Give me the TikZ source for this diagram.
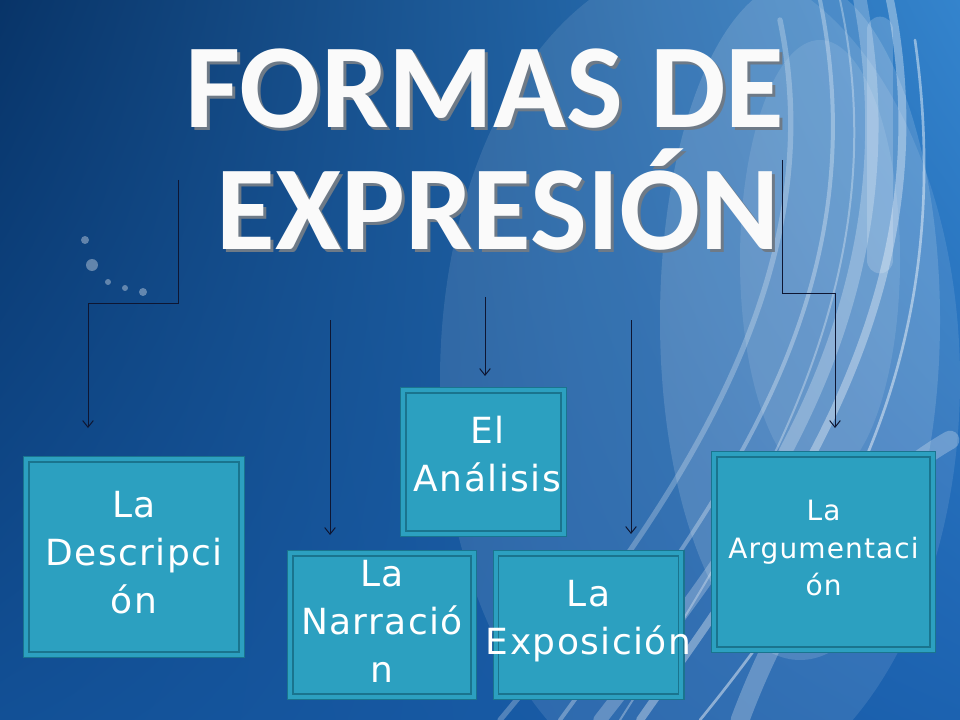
\documentclass[tikz,border=0pt]{standalone}
\usepackage{fontspec}
\usetikzlibrary{shadows,shadings,arrows.meta}
\newfontfamily\titlefont{Carlito}
\newfontfamily\boxfont[LetterSpace=4]{DejaVu Sans}
\definecolor{bgdark}{RGB}{8,52,104}
\definecolor{bgmid}{RGB}{28,98,176}
\definecolor{bglight}{RGB}{52,132,205}
\definecolor{bglow}{RGB}{18,80,150}
\definecolor{boxfill}{RGB}{44,160,192}
\definecolor{boxline}{RGB}{26,116,142}
\definecolor{arrowcol}{RGB}{14,22,50}
\definecolor{titleshade}{RGB}{110,122,135}
\begin{document}
\begin{tikzpicture}[x=0.75pt,y=-0.75pt,
    formbox/.style={draw=boxline, line width=1pt, double=boxfill, double distance=3pt,
      fill=boxfill, inner sep=0pt,
      drop shadow={shadow xshift=1.5pt, shadow yshift=-1.5pt, opacity=0.35}},
    boxlabel/.style={align=center, text=white, inner sep=0pt, yshift=3pt,
      font=\boxfont\fontsize{27}{36}\selectfont},
    smalllabel/.style={boxlabel, font=\boxfont\fontsize{21}{28}\selectfont},
    flecha/.style={-{Straight Barb[length=5pt, width=8pt]}, draw=arrowcol, line width=0.75pt},
    streak/.style={white, line cap=round}]
  \useasboundingbox (0,0) rectangle (960,720);
  % background
  \begin{scope}
    \clip (0,0) rectangle (960,720);
    \shade[upper left=bgdark, upper right=bglight, lower left=bglow, lower right=bgmid]
      (0,0) rectangle (960,720);
    \fill[white, opacity=0.10] (700,380) ellipse (260 and 420);
    \fill[white, opacity=0.14] (800,320) ellipse (140 and 340);
    \fill[white, opacity=0.10] (820,260) ellipse (80 and 220);
    \draw[streak, opacity=0.35, line width=6pt] (890,0) .. controls (950,300) and (780,520) .. (640,720);
    \draw[streak, opacity=0.25, line width=10pt] (860,0) .. controls (920,320) and (740,540) .. (600,720);
    \draw[streak, opacity=0.30, line width=3pt] (820,0) .. controls (880,300) and (720,500) .. (560,720);
    \draw[streak, opacity=0.45, line width=2pt] (915,40) .. controls (960,360) and (830,560) .. (700,720);
    \draw[streak, opacity=0.25, line width=4pt] (780,20) .. controls (830,260) and (700,480) .. (500,720);
    \draw[streak, opacity=0.30, line width=1.5pt] (840,0) .. controls (900,280) and (760,500) .. (620,720);
    \draw[streak, opacity=0.25, line width=14pt] (950,440) .. controls (880,480) and (800,560) .. (740,720);
    \draw[streak, opacity=0.18, line width=20pt] (880,30) -- (880,260);
    \fill[white, opacity=0.35] (85,240) circle (4) (92,265) circle (6) (108,282) circle (3)
      (125,288) circle (3) (143,292) circle (4);
  \end{scope}

  % title
  \node[anchor=base, text=titleshade, font=\titlefont\bfseries\fontsize{90}{92}\selectfont]
    (titleshadowa) at (488,131) {FORMAS DE};
  \node[anchor=base, text=titleshade, font=\titlefont\bfseries\fontsize{90}{92}\selectfont]
    (titleshadowb) at (501,253) {EXPRESIÓN};
  \node[anchor=base, text=white!96!gray, font=\titlefont\bfseries\fontsize{90}{92}\selectfont]
    (titlea) at (485,128) {FORMAS DE};
  \node[anchor=base, text=white!96!gray, font=\titlefont\bfseries\fontsize{90}{92}\selectfont]
    (titleb) at (498,250) {EXPRESIÓN};

  % boxes
  \node[formbox, minimum width=161.5pt, minimum height=146.5pt,
    label={[boxlabel]center:{La\\Descripci\\ón}}] (descripcion) at (134,557) {};
  \node[formbox, minimum width=120.25pt, minimum height=107.5pt,
    label={[boxlabel, yshift=3pt, xshift=3pt]center:{El\\Análisis}}] (analisis) at (483.5,462) {};
  \node[formbox, minimum width=137.5pt, minimum height=107.5pt,
    label={[boxlabel]center:{La\\Narració\\n}}] (narracion) at (382,625) {};
  \node[formbox, minimum width=139pt, minimum height=107.5pt,
    label={[boxlabel]center:{La\\Exposición}}] (exposicion) at (588.5,625) {};
  \node[formbox, minimum width=163.75pt, minimum height=146.5pt,
    label={[smalllabel]center:{La\\Argumentaci\\ón}}] (argumentacion) at (823.5,552) {};

  % connectors
  \coordinate (desc-from) at (178,180);
  \coordinate (desc-to) at (88,428);
  \coordinate (narr-from) at (330,320);
  \coordinate (narr-to) at (330,535);
  \coordinate (anal-from) at (485,297);
  \coordinate (anal-to) at (485,376);
  \coordinate (expo-from) at (631,320);
  \coordinate (expo-to) at (631,534);
  \coordinate (argu-from) at (782,160);
  \coordinate (argu-to) at (835,428);
  \draw[flecha] (desc-from) -- (178,304) -| (desc-to);
  \draw[flecha] (narr-from) -- (narr-to);
  \draw[flecha] (anal-from) -- (anal-to);
  \draw[flecha] (expo-from) -- (expo-to);
  \draw[flecha] (argu-from) -- (782,294) -| (argu-to);
\end{tikzpicture}
\end{document}
